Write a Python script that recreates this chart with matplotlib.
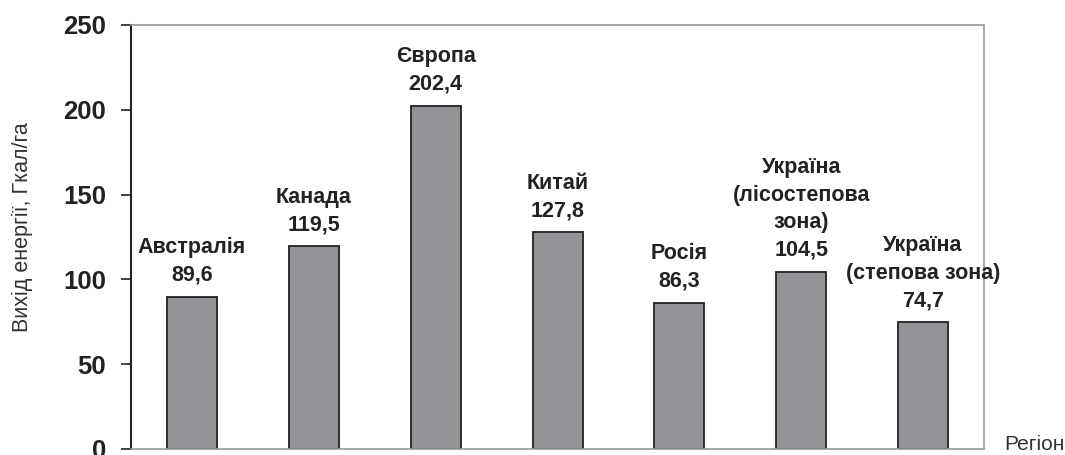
import matplotlib.pyplot as plt

plt.rcParams['font.family'] = ['Liberation Sans', 'DejaVu Sans']

# Дані
regions = ['Австралія', 'Канада', 'Європа', 'Китай', 'Росія',
           'Україна\n(лісостепова\nзона)', 'Україна\n(степова зона)']
values = [89.6, 119.5, 202.4, 127.8, 86.3, 104.5, 74.7]
yticks = [0, 50, 100, 150, 200, 250]

fig = plt.figure(figsize=(10.65, 4.55), dpi=100)
ax = fig.add_axes([0.123, 0.0132, 0.801, 0.932])

x = list(range(len(values)))
ax.bar(x, values, width=0.41, color='#939498', edgecolor='#222222', linewidth=1.3)

# Підписи над стовпцями
for xi, name, v in zip(x, regions, values):
    label = name + '\n' + f'{v:.1f}'.replace('.', ',')
    ax.annotate(label, (xi, v), xytext=(0, 8), textcoords='offset points',
                ha='center', va='bottom', fontsize=15.5, fontweight='bold',
                color='#222222', linespacing=1.4)

ax.set_xlim(-0.5, len(values) - 0.5)
ax.set_ylim(0, 250)
ax.set_yticks(yticks)
ax.set_yticklabels([str(t) for t in yticks], fontsize=18.5, fontweight='bold', color='#222222')
ax.tick_params(axis='y', direction='out', length=7, width=1.2, color='#222222', pad=11)
ax.set_xticks([])

for s in ['top', 'right', 'bottom']:
    ax.spines[s].set_color('#999999')
    ax.spines[s].set_linewidth(1.2)
ax.spines['left'].set_color('#222222')
ax.spines['left'].set_linewidth(1.5)

fig.text(0.021, 0.5, 'Вихід енергії, Гкал/га', rotation=90, ha='center', va='center',
         fontsize=15.5, color='#333333')
fig.text(0.943, 0.024, 'Регіон', ha='left', va='center', fontsize=15, color='#333333')

fig.savefig('out.png', dpi=100)
